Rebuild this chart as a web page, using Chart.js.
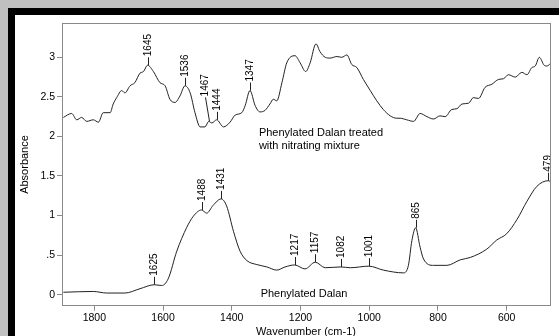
<!DOCTYPE html>
<html>
<head>
<meta charset="utf-8">
<script src="https://cdn.jsdelivr.net/npm/chart.js@4"></script>
<style>
  html, body { margin: 0; padding: 0; overflow: hidden; }
  body { width: 559px; height: 336px; background: #c0c0c0; position: relative; }
  #frame { position: absolute; left: 8px; top: 8px; right: 0; bottom: 0; background: #000; }
  #paper { position: absolute; left: 15px; top: 15px; width: 544px; height: 326px; background: #fff; }
</style>
</head>
<body>
<div id="frame"></div>
<div id="paper"><canvas id="spectrum" width="544" height="326"></canvas></div>
<script>
// wavenumbers (cm-1) and absorbance
const treatedWn = [1890, 1866, 1851, 1837, 1822, 1803, 1788, 1774, 1754, 1745, 1735, 1720, 1711, 1696, 1682,
  1667, 1657, 1645, 1628, 1609, 1594, 1580, 1565, 1551, 1536, 1521, 1507, 1492, 1478, 1467, 1458, 1444,
  1424, 1405, 1390, 1371, 1361, 1347, 1332, 1318, 1303, 1289, 1279, 1269, 1254, 1240, 1216, 1201, 1185,
  1172, 1155, 1143, 1128, 1114, 1094, 1080, 1065, 1051, 1036, 1017, 997, 978, 959, 939, 920, 910, 891,
  871, 852, 832, 813, 794, 779, 760, 745, 730, 711, 697, 682, 663, 643, 624, 609, 595, 575, 556, 541,
  527, 517, 505, 491, 483, 473];
const treatedAbs = [2.24, 2.29, 2.21, 2.24, 2.19, 2.21, 2.18, 2.30, 2.30, 2.41, 2.49, 2.58, 2.55, 2.64, 2.68,
  2.80, 2.82, 2.90, 2.82, 2.68, 2.64, 2.47, 2.43, 2.51, 2.64, 2.55, 2.30, 2.12, 2.12, 2.19, 2.17, 2.21,
  2.12, 2.18, 2.27, 2.30, 2.39, 2.58, 2.39, 2.31, 2.33, 2.41, 2.47, 2.45, 2.68, 2.93, 3.02, 2.93, 2.82,
  2.93, 3.17, 3.07, 3.00, 2.99, 3.01, 3.00, 3.03, 2.91, 2.87, 2.72, 2.58, 2.45, 2.34, 2.26, 2.23, 2.23, 2.21,
  2.19, 2.29, 2.25, 2.22, 2.26, 2.25, 2.34, 2.35, 2.41, 2.42, 2.49, 2.48, 2.62, 2.66, 2.72, 2.73, 2.78, 2.75,
  2.81, 2.78, 2.87, 2.89, 3.00, 2.90, 2.89, 2.92];

const dalanWn = [1890, 1803, 1764, 1711, 1667, 1625, 1604, 1585, 1560, 1531, 1512, 1488, 1473, 1454, 1431,
  1415, 1395, 1376, 1356, 1327, 1298, 1269, 1245, 1217, 1187, 1157, 1128, 1082, 1055, 1001, 959, 900,
  886, 876, 865, 852, 842, 813, 774, 735, 706, 658, 629, 600, 570, 541, 512, 479, 473];
const dalanAbs = [0.03, 0.04, 0.02, 0.02, 0.075, 0.125, 0.115, 0.2, 0.55, 0.85, 0.99, 1.07, 1.03, 1.13, 1.21,
  1.12, 0.80, 0.55, 0.43, 0.38, 0.35, 0.31, 0.35, 0.375, 0.325, 0.41, 0.34, 0.35, 0.34, 0.36, 0.31, 0.275,
  0.37, 0.68, 0.845, 0.6, 0.45, 0.37, 0.37, 0.44, 0.47, 0.575, 0.69, 0.77, 0.95, 1.18, 1.37, 1.44, 1.43];

const treatedPeaks = [1645, 1536, 1467, 1444, 1347];
const dalanPeaks = [1625, 1488, 1431, 1217, 1157, 1082, 1001, 865, 479];

const xTicks = [1800, 1600, 1400, 1200, 1000, 800, 600];
const yTicks = [0, 0.5, 1, 1.5, 2, 2.5, 3];

const treatedLabel = ['Phenylated Dalan treated', 'with nitrating mixture'];
const dalanLabel = 'Phenylated Dalan';

function toPoints(wn, abs) {
  return wn.map(function (w, i) { return { x: w, y: abs[i] }; });
}

const peakPlugin = {
  id: 'peaks',
  afterDatasetsDraw: function (chart) {
    const ctx = chart.ctx;
    const area = chart.chartArea;
    const xs = chart.scales.x;
    const ys = chart.scales.y;

    ctx.save();
    ctx.beginPath();
    ctx.rect(area.left, area.top, area.right - area.left, area.bottom - area.top);
    ctx.clip();
    ctx.strokeStyle = '#222';
    ctx.fillStyle = '#000';
    ctx.lineWidth = 1;
    ctx.font = '10px "Liberation Sans", Arial, sans-serif';
    ctx.textBaseline = 'middle';
    ctx.textAlign = 'left';

    function drawPeaks(peaks, wn, abs) {
      peaks.forEach(function (p, i) {
        const v = abs[wn.indexOf(p)];
        const px = Math.round(xs.getPixelForValue(p)) + 0.5;
        const py = ys.getPixelForValue(v);
        let lx = px;
        let top = py - 8;
        // crowded neighbour: push the label up and to the left
        if (i + 1 < peaks.length && Math.abs(xs.getPixelForValue(peaks[i + 1]) - px) < 10) {
          lx = px - 4;
          top = py - 24;
        }
        ctx.beginPath();
        ctx.moveTo(px, py);
        ctx.lineTo(lx, top);
        ctx.stroke();
        ctx.save();
        ctx.translate(lx, top - 1);
        ctx.rotate(-Math.PI / 2);
        ctx.fillText(String(p), 0, 0);
        ctx.restore();
      });
    }
    drawPeaks(treatedPeaks, treatedWn, treatedAbs);
    drawPeaks(dalanPeaks, dalanWn, dalanAbs);

    ctx.font = '11px "Liberation Sans", Arial, sans-serif';
    ctx.fillText(treatedLabel[0], xs.getPixelForValue(1321), ys.getPixelForValue(2.04));
    ctx.fillText(treatedLabel[1], xs.getPixelForValue(1321), ys.getPixelForValue(1.875));
    ctx.fillText(dalanLabel, xs.getPixelForValue(1316), ys.getPixelForValue(0.012));
    ctx.restore();

    // box around the plot
    ctx.save();
    ctx.strokeStyle = '#8a8a8a';
    ctx.lineWidth = 1;
    ctx.strokeRect(Math.round(area.left) + 0.5, Math.round(area.top) + 0.5,
      Math.round(area.right - area.left), Math.round(area.bottom - area.top));
    ctx.restore();
  }
};

const tickFont = { family: '"Liberation Sans", Arial, sans-serif', size: 10.5 };
const titleFont = { family: '"Liberation Sans", Arial, sans-serif', size: 11 };

new Chart(document.getElementById('spectrum'), {
  type: 'line',
  data: {
    datasets: [{
      label: 'treated',
      data: toPoints(treatedWn, treatedAbs),
      borderColor: '#222',
      borderWidth: 1,
      pointRadius: 0,
      cubicInterpolationMode: 'monotone'
    }, {
      label: 'dalan',
      data: toPoints(dalanWn, dalanAbs),
      borderColor: '#222',
      borderWidth: 1,
      pointRadius: 0,
      cubicInterpolationMode: 'monotone'
    }]
  },
  options: {
    responsive: false,
    animation: false,
    devicePixelRatio: 1,
    layout: { padding: { left: 0, top: 5, right: 9, bottom: 0 } },
    plugins: { legend: { display: false }, tooltip: { enabled: false } },
    scales: {
      x: {
        type: 'linear',
        reverse: true,
        min: 474,
        max: 1894,
        afterBuildTicks: function (s) { s.ticks = xTicks.map(function (v) { return { value: v }; }); },
        afterFit: function (s) { s.height = 35.3; },
        ticks: {
          autoSkip: false, maxRotation: 0, padding: 1, color: '#000', font: tickFont,
          callback: function (v) { return String(v); }
        },
        grid: { drawOnChartArea: false, drawTicks: true, tickLength: 5, color: '#8a8a8a' },
        border: { display: false },
        title: { display: true, text: 'Wavenumber (cm-1)', color: '#000', font: titleFont, padding: { top: 0, bottom: 2.4 } }
      },
      y: {
        min: -0.14,
        max: 3.43,
        afterBuildTicks: function (s) { s.ticks = yTicks.map(function (v) { return { value: v }; }); },
        afterFit: function (s) { s.width = 47; },
        ticks: {
          padding: 2, color: '#000', font: tickFont,
          callback: function (v) { return v > 0 && v < 1 ? String(v).replace(/^0/, '') : String(v); }
        },
        grid: { drawOnChartArea: false, drawTicks: true, tickLength: 5, color: '#8a8a8a' },
        border: { display: false },
        title: { display: true, text: 'Absorbance', color: '#000', font: titleFont, padding: { top: 3, bottom: 0 } }
      }
    }
  },
  plugins: [peakPlugin]
});
</script>
</body>
</html>
